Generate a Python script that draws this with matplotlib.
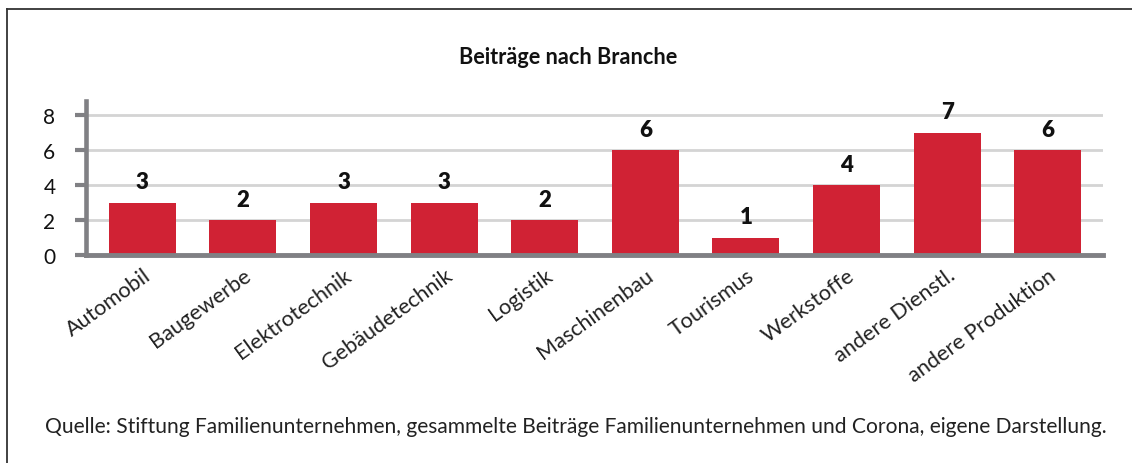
import matplotlib
matplotlib.use("Agg")
import matplotlib.pyplot as plt
from matplotlib.lines import Line2D

plt.rcParams['font.family'] = ['Lato', 'DejaVu Sans']

categories = ["Automobil", "Baugewerbe", "Elektrotechnik", "Gebäudetechnik", "Logistik",
              "Maschinenbau", "Tourismus", "Werkstoffe", "andere Dienstl.", "andere Produktion"]
values = [3, 2, 3, 3, 2, 6, 1, 4, 7, 6]
yticks = [0, 2, 4, 6, 8]
title = "Beiträge nach Branche"
source = "Quelle: Stiftung Familienunternehmen, gesammelte Beiträge Familienunternehmen und Corona, eigene Darstellung."

W, H = 1132, 464
fig = plt.figure(figsize=(W / 100, H / 100), dpi=100)
renderer = fig.canvas.get_renderer()


def fit_size(text, target_px, base=14, **kw):
    t = fig.text(0, 0, text, fontsize=base, **kw)
    w = t.get_window_extent(renderer=renderer).width
    t.remove()
    return base * target_px / w


ax = fig.add_axes([86 / W, 1 - 256 / H, (1103 - 86) / W, (256 - 102) / H])

bar_color = "#d02234"
axis_gray = "#808084"
grid_gray = "#d4d4d4"

x = list(range(len(categories)))
ax.bar(x, values, width=0.666, color=bar_color, zorder=3)
for xi, v in zip(x, values):
    ax.annotate(str(v), (xi, v), xytext=(0, 7.5), textcoords="offset points",
                ha="center", va="bottom", fontsize=16, fontweight="heavy", color="#111111")

ax.set_xlim(-0.56, 9.55)
ax.set_ylim(0, 8.8)
ax.set_yticks(yticks)
ax.set_yticklabels([str(t) for t in yticks], fontsize=15, color="#111111")
ax.yaxis.grid(True, color=grid_gray, linewidth=2, zorder=0)
ax.set_axisbelow(True)

tick_fs = fit_size("Automobil", 100)
ax.set_xticks(x)
ax.set_xticklabels(categories, rotation=36, ha="right", rotation_mode="anchor",
                   fontsize=tick_fs, color="#222222")
ax.tick_params(axis="x", length=0, pad=7)
ax.tick_params(axis="y", length=8, width=3, color=axis_gray, pad=14)

for s in ["top", "right"]:
    ax.spines[s].set_visible(False)
ax.spines["left"].set_color(axis_gray)
ax.spines["left"].set_linewidth(3.3)
ax.spines["bottom"].set_color(axis_gray)
ax.spines["bottom"].set_linewidth(3.5)
ax.spines["bottom"].set_zorder(4)

title_fs = fit_size(title, 220, fontweight="bold")
fig.text(568 / W, 1 - 58 / H, title, ha="center", va="center", fontsize=title_fs,
         fontweight="bold", color="#111111")
src_fs = fit_size(source, 1062)
fig.text(45 / W, 1 - 427 / H, source, ha="left", va="center", fontsize=src_fs, color="#222222")

# frame lines
fig.add_artist(Line2D([7 / W, 1.0], [1 - 10 / H, 1 - 10 / H], transform=fig.transFigure,
                      color="#333333", linewidth=1.3))
fig.add_artist(Line2D([7 / W, 7 / W], [1 - 10 / H, 0.0], transform=fig.transFigure,
                      color="#333333", linewidth=1.3))

fig.savefig("out.png", dpi=100)
